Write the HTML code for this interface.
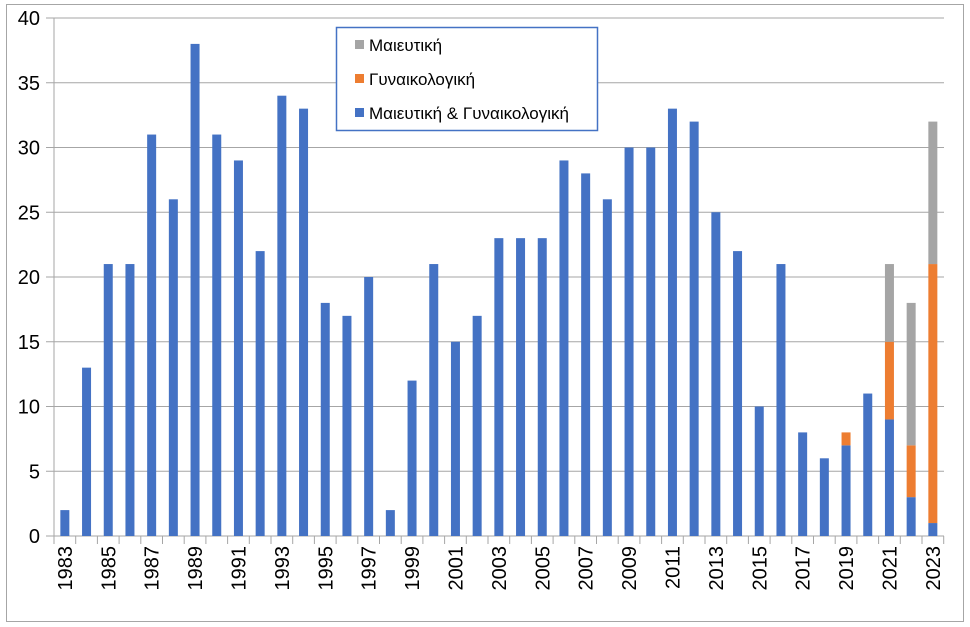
<!DOCTYPE html><html><head><meta charset="utf-8"><style>body{margin:0;background:#fff}svg{display:block;font-family:"Liberation Sans",sans-serif}</style></head><body>
<svg width="970" height="627" xmlns="http://www.w3.org/2000/svg">
<rect x="6.5" y="4.5" width="957" height="617" fill="#fff" stroke="#a6a6a6"/>
<g id="g"></g>
<script>
const ns="http://www.w3.org/2000/svg",g=document.getElementById('g');
function el(t,a,txt){const e=document.createElementNS(ns,t);for(const k in a)e.setAttribute(k,a[k]);if(txt!=null)e.textContent=txt;g.appendChild(e);return e;}
const y0=536,k=12.95,x0=54,cw=21.7;
for(let v=0;v<=40;v+=5){const y=y0-v*k;el('line',{x1:46,x2:944,y1:y,y2:y,stroke:'#a6a6a6','stroke-width':1});el('text',{x:40,y:y+7,'text-anchor':'end','font-size':20,fill:'#000'},v);}
el('line',{x1:x0,x2:x0,y1:18,y2:y0,stroke:'#a6a6a6'});
const b=[2,13,21,21,31,26,38,31,29,22,34,33,18,17,20,2,12,21,15,17,23,23,23,29,28,26,30,30,33,32,25,22,10,21,8,6,7,11,9,3,1];
const o={36:1,38:6,39:4,40:20},gr={38:6,39:11,40:11};
for(let i=0;i<=41;i++){const x=x0+i*cw;el('line',{x1:x,x2:x,y1:y0,y2:y0+8,stroke:'#a6a6a6'});}
for(let i=0;i<41;i++){const cx=x0+cw*(i+.5),w=9;let v=b[i];
el('rect',{x:cx-w/2,y:y0-v*k,width:w,height:v*k,fill:'#4472c4'});
if(o[i]){el('rect',{x:cx-w/2,y:y0-(v+o[i])*k,width:w,height:o[i]*k,fill:'#ed7d31'});v+=o[i];}
if(gr[i]){el('rect',{x:cx-w/2,y:y0-(v+gr[i])*k,width:w,height:gr[i]*k,fill:'#a5a5a5'});}
if(i%2==0){el('text',{x:0,y:0,'font-size':20,'text-anchor':'end',transform:`translate(${cx+7},${y0+10}) rotate(-90)`},1983+i);}}
el('rect',{x:336.5,y:27.5,width:261,height:103,fill:'#fff',stroke:'#4472c4','stroke-width':1.5});
[['#a5a5a5','Μαιευτική',45],['#ed7d31','Γυναικολογική',79],['#4472c4','Μαιευτική & Γυναικολογική',113]].forEach(([c,t,y])=>{el('rect',{x:355,y:y-5,width:9,height:9,fill:c});el('text',{x:369,y:y+6,'font-size':17},t);});
</script>
</svg></body></html>
